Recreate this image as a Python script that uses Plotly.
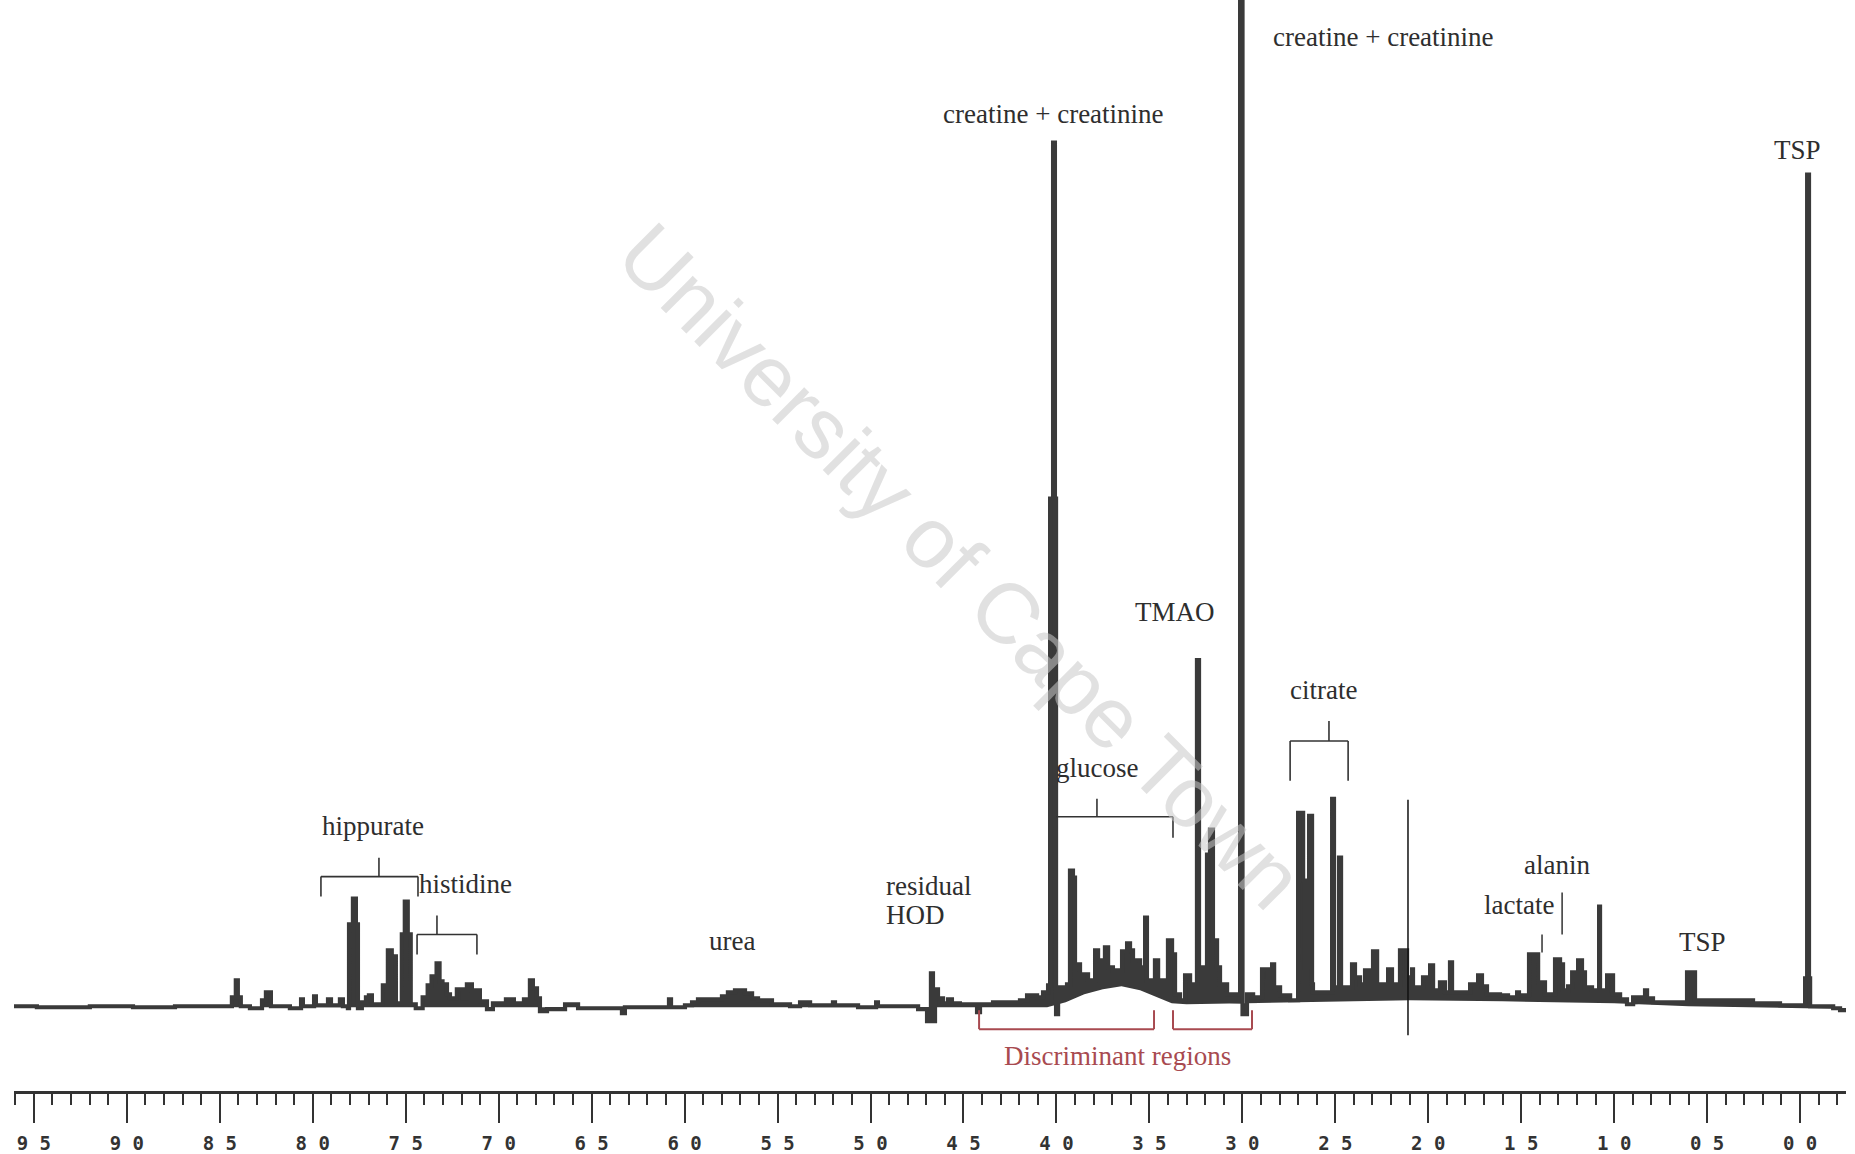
import plotly.graph_objects as go

# ---- Spectrum (binned 1H NMR), chemical shift in ppm and intensity (a.u.) ----
ppm = [9.613, 9.484, 9.199, 8.967, 8.741, 8.446, 8.435, 8.414, 8.403, 8.387, 8.338, 8.273, 8.252, 8.225,
       8.123, 8.063, 8.053, 7.993, 7.983, 7.918, 7.902, 7.854, 7.838, 7.811, 7.805, 7.784, 7.768, 7.757,
       7.736, 7.714, 7.698, 7.682, 7.623, 7.596, 7.575, 7.553, 7.521, 7.505, 7.489, 7.473, 7.446, 7.409,
       7.382, 7.361, 7.334, 7.318, 7.302, 7.278, 7.262, 7.225, 7.193, 7.171, 7.144, 7.101, 7.063, 7.031,
       6.961, 6.950, 6.929, 6.918, 6.864, 6.853, 6.832, 6.816, 6.794, 6.778, 6.740, 6.643, 6.573, 6.337,
       6.321, 6.084, 6.073, 5.998, 5.960, 5.928, 5.836, 5.799, 5.767, 5.729, 5.675, 5.637, 5.605, 5.530,
       5.433, 5.379, 5.325, 5.202, 5.191, 5.067, 4.970, 4.960, 4.744, 4.696, 4.675, 4.664, 4.653, 4.637,
       4.610, 4.583, 4.562, 4.519, 4.427, 4.411, 4.341, 4.196, 4.158, 4.104, 4.072, 4.045, 4.034, 4.018,
       4.008, 4.002, 3.991, 3.943, 3.927, 3.911, 3.900, 3.873, 3.830, 3.792, 3.776, 3.739, 3.722, 3.696,
       3.647, 3.620, 3.604, 3.588, 3.550, 3.523, 3.513, 3.470, 3.453, 3.400, 3.378, 3.362, 3.335, 3.308,
       3.281, 3.244, 3.233, 3.190, 3.174, 3.158, 3.136, 3.120, 3.082, 3.023, 3.012, 2.999, 2.975, 2.942,
       2.894, 2.862, 2.840, 2.829, 2.797, 2.743, 2.700, 2.673, 2.663, 2.641, 2.625, 2.620, 2.517, 2.507,
       2.480, 2.469, 2.410, 2.394, 2.367, 2.340, 2.318, 2.297, 2.275, 2.216, 2.195, 2.152, 2.114, 2.087,
       2.082, 2.028, 1.990, 1.974, 1.937, 1.910, 1.883, 1.872, 1.775, 1.732, 1.711, 1.684, 1.614, 1.571,
       1.522, 1.512, 1.458, 1.409, 1.372, 1.318, 1.291, 1.275, 1.248, 1.226, 1.210, 1.194, 1.173, 1.157,
       1.119, 1.081, 1.076, 1.038, 1.006, 0.968, 0.931, 0.898, 0.834, 0.823, 0.791, 0.608, 0.592, 0.581,
       0.565, 0.253, 0.108, -0.027, -0.038, -0.048, -0.054, -0.178, -0.215, -0.260]
intensity = [0, -1, 0, -1, 0, 0, 9, 26, 9, 0, -2, 6, 14, 0,
             -2, 7, 0, 10, 1, 7, 1, 7, 0, -2, 82, 108, 82, -2,
             4, 9, 11, 2, 21, 56, 50, 3, 72, 105, 72, 2, -2, 9,
             21, 30, 43, 25, 22, 12, 8, 17, 8, 22, 16, 5, -3, 3,
             7, 3, 7, 3, 7, 3, 26, 18, 8, -5, -3, 2, -2, -7,
             -1, 7, -1, 1, 4, 7, 7, 10, 14, 16, 13, 8, 6, 2,
             0, 4, 1, 4, 1, -1, 4, 0, -3, -15, 33, -15, 17, 8,
             3, 7, 3, 2, -6, 2, 4, 6, 11, 9, 14, 21, 509, 866,
             509, -8, 19, 22, 136, 129, 42, 32, 26, 56, 46, 59, 39, 36,
             55, 63, 56, 46, 39, 89, 26, 46, 26, 66, 52, 12, 6, 31,
             22, 347, 39, 152, 177, 66, 39, 22, 12, 12, 1200, -8, 12, 9,
             37, 30, 42, 19, 11, 6, 194, 126, 39, 191, 22, 14, 208, 19,
             149, 19, 42, 29, 22, 36, 22, 55, 22, 37, 22, 56, 29, 37,
             19, 29, 41, 16, 24, 14, 44, 14, 22, 31, 20, 12, 11, 9,
             14, 11, 52, 24, 12, 47, 42, 16, 20, 34, 26, 46, 34, 19,
             16, 100, 16, 31, 12, 7, 2, 9, 16, 8, 4, 34, 22, 34,
             6, 3, 1, 28, 834, 28, 0, -2, -4, -4]

# lower edge of the noisy band under the spectrum (broad baseline rise under glucose)
floor_ppm = [9.70, 4.05, 3.95, 3.85, 3.75, 3.65, 3.55, 3.45, 3.38, 3.30, 3.00, 2.50, 2.10, 1.60, 1.00, 0.60, -0.30]
floor_int = [-1, -1, 4, 12, 17, 20, 16, 8, 3, 2, 3, 5, 6, 5, 3, 0, -3]

# ---- Axis ticks ----
tick_vals = [9.5, 9.0, 8.5, 8.0, 7.5, 7.0, 6.5, 6.0, 5.5, 5.0, 4.5, 4.0, 3.5, 3.0, 2.5, 2.0, 1.5, 1.0, 0.5, 0.0]
tick_text = ["9 5", "9 0", "8 5", "8 0", "7 5", "7 0", "6 5", "6 0", "5 5", "5 0",
             "4 5", "4 0", "3 5", "3 0", "2 5", "2 0", "1 5", "1 0", "0 5", "0 0"]

# ---- Peak labels ----
label_text = ["creatine + creatinine", "creatine + creatinine", "TSP", "TMAO", "citrate", "glucose",
              "hippurate", "histidine", "urea", "residual", "HOD", "alanin", "lactate", "TSP"]
label_ppm = [2.243, 4.018, 0.016, 3.362, 2.561, 3.782, 7.676, 7.181, 5.745, 4.927, 4.927, 1.307, 1.512, 0.527]
label_int = [972, 895, 859, 395, 317, 239, 181, 123, 65, 121, 91, 142, 102, 64]
label_anchor = ["center", "center", "center", "center", "center", "center", "center", "center",
                "center", "left", "left", "center", "center", "center"]

# ---- Brackets (ppm_left, ppm_right, tick ppm, bracket level, tick top, foot level) ----
brackets = {
    "hippurate": (7.956, 7.434, 7.644, 130, 149, 110),
    "histidine": (7.439, 7.117, 7.332, 72, 91, 52),
    "citrate": (2.743, 2.431, 2.534, 266, 286, 226),
}
glucose_bracket = (4.002, 3.373, 3.782, 190, 208, 169)
marker_lines = [(1.388, 72, 54), (1.280, 114, 72), (2.109, 207, -29)]  # lactate, alanin, reference line
discriminant = [(4.416, 3.475), (3.373, 2.948)]
disc_top, disc_bottom = -4, -23

INK = "#3a3a3a"
RED = "#a84a50"

fig = go.Figure()
fig.add_trace(go.Scatter(x=floor_ppm, y=floor_int, mode="lines", line=dict(color="rgba(0,0,0,0)", width=0),
                         hoverinfo="skip", showlegend=False))
fig.add_trace(go.Scatter(x=ppm, y=intensity, mode="lines", line=dict(color=INK, width=4.2, shape="hv"),
                         fill="tonexty", fillcolor=INK,
                         hoverinfo="skip", showlegend=False))

shapes = []
def seg(x0, y0, x1, y1, color="#333333", width=1.6):
    shapes.append(dict(type="line", xref="x", yref="y", x0=x0, y0=y0, x1=x1, y1=y1,
                       line=dict(color=color, width=width)))

for (xl, xr, xt, lev, top, foot) in brackets.values():
    seg(xl, lev, xr, lev)
    seg(xl, lev, xl, foot)
    seg(xr, lev, xr, foot)
    seg(xt, lev, xt, top)
xl, xr, xt, lev, top, foot = glucose_bracket
seg(xl, lev, xr, lev)
seg(xr, lev, xr, foot)
seg(xt, lev, xt, top)
for i, (xm, y0, y1) in enumerate(marker_lines):
    seg(xm, y0, xm, y1, color="#111111" if i == 2 else "#333333", width=1.5)
for (xl, xr) in discriminant:
    seg(xl, disc_bottom, xr, disc_bottom, color=RED, width=2)
    seg(xl, disc_top, xl, disc_bottom, color=RED, width=2)
    seg(xr, disc_top, xr, disc_bottom, color=RED, width=2)

annotations = []
for t, xp, yi, anc in zip(label_text, label_ppm, label_int, label_anchor):
    annotations.append(dict(text=t, x=xp, y=yi, xref="x", yref="y", showarrow=False,
                            xanchor=anc, yanchor="middle",
                            font=dict(family="Liberation Serif", size=27, color="#2e2e2e")))
annotations.append(dict(text="Discriminant regions", x=3.674, y=-50, xref="x", yref="y", showarrow=False,
                        xanchor="center", yanchor="middle",
                        font=dict(family="Liberation Serif", size=27, color=RED)))
annotations.append(dict(text="University of Cape Town", x=0.517, y=0.481, xref="paper", yref="paper",
                        showarrow=False, textangle=45, xanchor="center", yanchor="middle",
                        font=dict(family="Liberation Sans", size=86, color="rgba(200,200,200,0.55)")))

fig.update_layout(
    width=1855, height=1154,
    margin=dict(l=14, r=9, t=0, b=60),
    paper_bgcolor="white", plot_bgcolor="white",
    shapes=shapes, annotations=annotations,
    showlegend=False,
    xaxis=dict(range=[9.607, -0.247], showgrid=False, zeroline=False,
               showline=True, linewidth=3, linecolor="#333333",
               tickmode="array", tickvals=tick_vals, ticktext=tick_text,
               ticks="outside", ticklen=29, tickwidth=2, tickcolor="#333333",
               ticklabelstandoff=4,
               tickfont=dict(family="DejaVu Sans Mono", size=19, color="#333333", weight="bold"),
               minor=dict(tick0=0, dtick=0.1, ticks="outside", ticklen=11, tickwidth=2,
                          tickcolor="#333333", showgrid=False)),
    yaxis=dict(range=[-85, 1009], visible=False, showgrid=False, zeroline=False),
)

fig.write_html("out.html")
